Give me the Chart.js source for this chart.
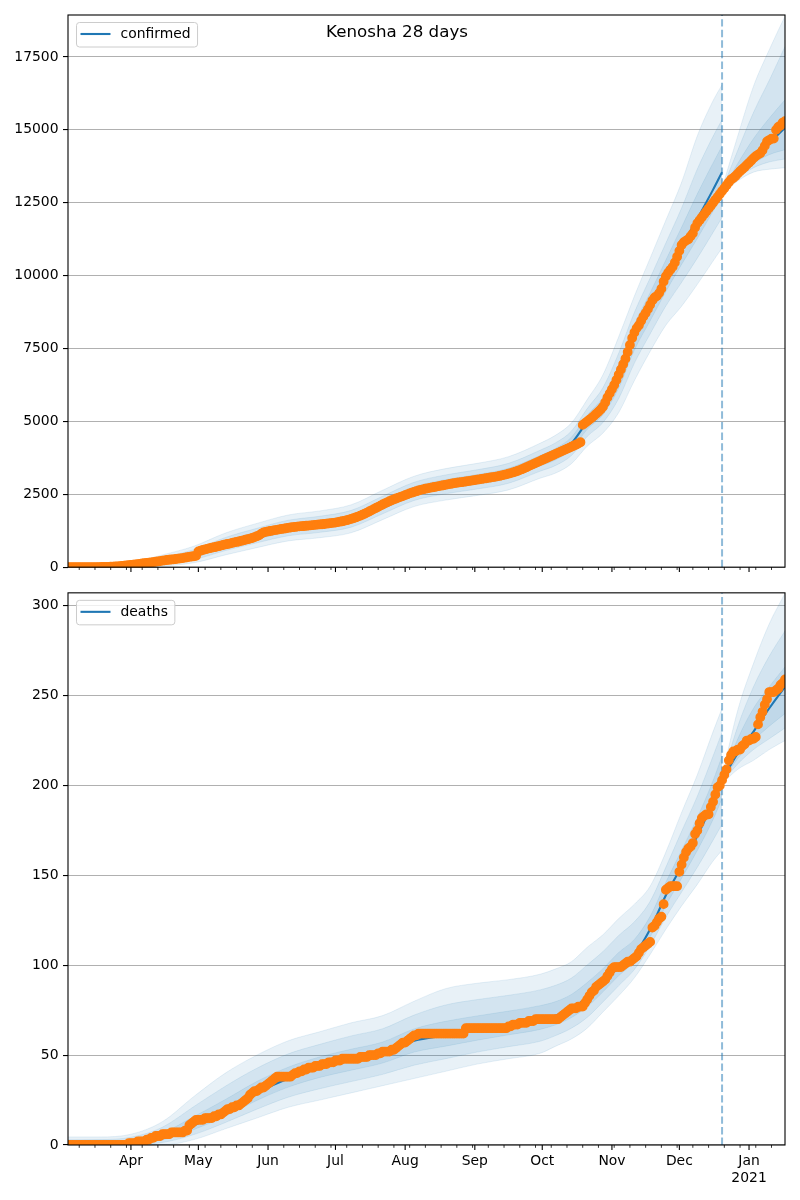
<!DOCTYPE html>
<html>
<head>
<meta charset="utf-8">
<title>Kenosha 28 days</title>
<script src="https://cdn.jsdelivr.net/npm/chart.js@4.4.0/dist/chart.umd.min.js"></script>
<style>
  body { margin: 0; background: #fff; }
  #wrap { position: relative; width: 800px; height: 1200px; }
  canvas { position: absolute; left: 0; }
</style>
</head>
<body>
<div id="wrap">
  <canvas id="casesChart" width="800" height="580" style="top:0px"></canvas>
  <canvas id="deathsChart" width="800" height="620" style="top:580px"></canvas>
</div>
<script>
// day 0 = 2020-03-04, last day = 2021-01-17
const lastDay = 319;
const forecastStart = 291; // 2020-12-20

// x axis: month starts (major, labelled), Mondays (minor)
const monthDays = [28, 58, 89, 119, 150, 181, 211, 242, 272, 303];
const monthLabels = ['Apr', 'May', 'Jun', 'Jul', 'Aug', 'Sep', 'Oct', 'Nov', 'Dec', ['Jan', '2021']];
const firstMonday = 5;

// y axis ticks
const confirmedTicks = [0, 2500, 5000, 7500, 10000, 12500, 15000, 17500];
const deathsTicks = [0, 50, 100, 150, 200, 250, 300];

// observed cumulative values, one per day from day 0
const confirmedObs = [
  0,0,0,0,0,0,0,0,0,0,
  1,1,2,3,4,6,8,10,13,16,
  20,25,30,36,42,50,58,66,75,
  85,95,105,115,125,135,145,155,165,175,185,197,210,
  222,235,245,255,262,270,280,290,300,312,325,340,355,
  365,375,390,
  540,565,590,
  610,630,650,668,685,700,720,740,760,
  780,795,810,830,850,865,880,900,920,940,960,980,1000,1030,
  1060,1090,1150,1190,
  1210,1225,1240,1255,1270,1280,1295,1310,1320,1335,1350,
  1360,1370,1380,1390,1398,1405,1412,1420,1428,1435,1442,1450,1458,1465,1472,
  1480,1490,1500,1510,1520,1530,1545,1560,1575,1590,1610,1630,
  1655,1680,1705,1735,1765,1800,1835,1870,1910,
  1950,1990,2030,2070,2110,2150,2190,2225,2260,
  2295,2325,2355,2385,2410,2440,2470,2500,2530,2555,2580,2605,2630,2650,2670,
  2690,2705,2720,2735,2750,2765,2780,2795,2810,2825,2840,2855,2870,2885,
  2895,2905,2915,2925,2938,2950,2962,2975,2988,3000,3012,3025,3038,3050,3062,3075,
  3088,3100,3115,3130,3148,3165,3185,3205,3225,3250,3275,3300,3330,3360,
  3395,3430,3465,3500,3535,3570,3605,3640,3675,3710,3745,3780,3815,3850,3885,
  3920,3955,3990,4025,4060,4095,4130,4165,4200,4240,4285,
  4880,4940,5000,5060,5120,5190,5260,5330,5410,5500,5650,5820,5960,6100,
  6250,6420,6600,6780,6960,7150,7380,7620,7860,
  8050,8200,8300,8450,8600,8720,
  8850,9000,9150,9250,9300,9400,9550,9800,9980,
  10100,10200,10300,10450,10650,10850,11050,11150,
  11200,11250,11350,11450,11650,11800,
  11900,12000,12100,12200,12300,12400,12500,12600,12700,12800,12900,
  13000,13100,13200,13300,13350,13420,13500,13580,13650,13720,13800,13870,
  13950,14030,14100,14150,14200,14300,14450,14600,14650,14700,14700,15000,15100,15150,15250,15300
];

const deathsObs = [
  0,0,0,0,0,0,0,0,0,0,0,0,0,0,0,0,0,0,0,0,0,0,0,0,0,0,0,
  1,1,1,1,2,2,2,2,3,
  3,4,4,5,5,5,6,6,6,
  6,7,7,7,7,7,7,8,8,
  11,12,13,14,
  14,14,14,15,15,15,15,16,
  16,17,17,18,19,20,
  20,21,21,22,22,23,
  24,25,26,28,29,
  30,30,31,32,32,33,
  34,35,36,37,38,
  38,38,38,38,38,38,
  39,40,40,41,41,42,42,43,
  43,43,44,44,44,45,45,45,46,46,
  46,47,47,47,48,48,48,48,48,48,
  48,48,49,49,49,49,50,50,50,50,
  51,51,52,52,52,52,53,53,54,
  55,56,57,57,58,59,60,
  61,61,62,62,62,62,62,
  62,62,62,62,62,62,62,62,62,62,62,62,62,62,62,62,
  65,65,65,65,65,65,65,65,65,65,65,65,65,65,65,65,65,65,65,
  66,66,67,67,67,68,68,68,68,
  69,69,69,70,70,70,70,70,70,70,70,70,70,70,
  71,72,73,74,75,76,
  76,76,77,77,77,
  79,81,83,85,86,
  88,89,90,91,92,94,96,98,
  99,99,99,99,100,101,102,
  102,103,104,105,107,109,
  110,111,112,113,
  121,122,124,
  126,127,
  134,
  142,143,144,144,144,144,
  152,156,160,163,165,166,168,173,
  175,179,182,183,184,184,188,191,
  195,199,200,203,206,209,
  214,217,219,219,220,220,
  222,223,225,225,226,226,227,
  234,238,241,245,248,252,
  252,252,253,254,256,257,259
];

// model fit up to the forecast start
const fitDays = [0,14,28,42,56,70,84,98,112,126,140,154,168,182,196,210,217,224,231,238,245,252,259,266,273,280,287,291];

const confirmedFit  = [0,5,60,220,420,790,1080,1340,1470,1660,2130,2600,2840,3010,3220,3650,3880,4250,4980,5500,6500,7900,8900,9950,11000,11950,12950,13550];
const confirmedHi90 = [40,60,160,420,720,1170,1500,1790,1930,2140,2640,3120,3380,3560,3790,4250,4530,4950,5750,6600,7900,9300,10600,11900,13200,14800,16000,16550];
const confirmedLo90 = [0,0,0,40,150,420,670,900,1010,1180,1630,2080,2300,2460,2650,3050,3230,3550,4150,4600,5300,6400,7400,8300,8950,9700,10500,10950];
const confirmedHi75 = [24,38,120,340,600,1018,1332,1610,1746,1948,2436,2912,3164,3340,3562,4010,4270,4670,5440,6160,7340,8740,9920,11120,12320,13660,14780,15350];
const confirmedLo75 = [0,2,24,112,258,568,834,1076,1194,1372,1830,2288,2516,2680,2878,3290,3490,3830,4482,4960,5780,7000,8000,8960,9770,10600,11480,11990];
const confirmedHi50 = [12,22,90,280,510,904,1206,1475,1608,1804,2283,2756,3002,3175,3391,3830,4075,4460,5210,5830,6920,8320,9410,10535,11660,12805,13865,14450];
const confirmedLo50 = [0,4,42,166,339,679,957,1208,1332,1516,1980,2444,2678,2845,3049,3470,3685,4040,4730,5230,6140,7450,8450,9455,10385,11275,12215,12770];

const deathsFit  = [0,0.3,1,4,11,19,29,37,43,47,51,58,61,64,67,70,72,76,82,90,99,106,120,139,155,172,191,205];
const deathsHi90 = [4.5,4.5,6,13,27,40,50,58,63,68,72,80,87,90,92,95,98,102,110,117,126,134,144,163,185,206,230,243];
const deathsLo90 = [0,0,0,0,3,9,15,21,25,29,33,37,41,45,48,51,55,59,65,74,83,93,106,120,133,145,158,164];
const deathsHi75 = [2.9,3.0,4.3,9.9,21.4,32.7,42.7,50.7,56,60.7,64.7,72.3,77.9,80.9,83.3,86.3,88.9,92.9,100.2,107.6,116.6,124.2,135.6,154.6,174.5,194.1,216.4,229.7];
const deathsLo75 = [0,0.1,0.35,1.4,5.8,12.5,19.9,26.6,31.3,35.3,39.3,44.4,48,51.7,54.7,57.7,60.9,65,71,79.6,88.6,97.6,110.9,126.7,140.7,154.5,169.6,178.4];
const deathsHi50 = [1.4,1.6,2.5,6.7,15.8,25.3,35.3,43.3,49,53.3,57.3,64.6,68.8,71.8,74.5,77.5,79.8,83.8,90.4,98.1,107.1,114.4,127.2,146.2,164,182.2,202.7,216.4];
const deathsLo50 = [0,0.2,0.7,2.8,8.6,16,24.8,32.2,37.6,41.6,45.6,51.7,55,58.3,61.3,64.3,66.9,70.9,76.9,85.2,94.2,102.1,115.8,133.3,148.4,163.9,181.1,192.7];

// 28 day forecast
const forecastDays = [291, 298, 305, 312, 319];

const confirmedFc     = [12900, 13500, 14030, 14550, 15070];
const confirmedFcHi90 = [13000, 14800, 16500, 17750, 18900];
const confirmedFcLo90 = [12800, 13250, 13550, 13650, 13700];
const confirmedFcHi75 = [12960, 14300, 15600, 16700, 17860];
const confirmedFcLo75 = [12840, 13350, 13700, 13900, 14000];
const confirmedFcHi50 = [12930, 13850, 14700, 15400, 16030];
const confirmedFcLo50 = [12870, 13420, 13850, 14150, 14320];

const deathsFc     = [203, 218, 230, 243, 255];
const deathsFcHi90 = [205, 242, 268, 290, 307];
const deathsFcLo90 = [201, 209, 214, 220, 225];
const deathsFcHi75 = [204.5, 233, 255, 272, 286];
const deathsFcLo75 = [201.7, 212, 220, 226, 232];
const deathsFcHi50 = [204, 226, 243, 255, 266];
const deathsFcLo50 = [202.3, 215, 225, 233, 240];

const BLUE = '#1f77b4';
const ORANGE = '#ff7f0e';
const BAND = 'rgba(31,119,180,0.1)';
const FONT = "'DejaVu Sans', sans-serif";

Chart.defaults.font.family = FONT;
Chart.defaults.color = '#000';

const minorDays = [];
for (let d = firstMonday; d <= lastDay; d += 7) {
  if (!monthDays.includes(d)) minorDays.push(d);
}

function pts(days, values) {
  return values.map((v, i) => ({ x: days[i], y: v }));
}

function dailyPts(values) {
  return values.map((v, i) => ({ x: i, y: v }));
}

function bandPair(days, lo, hi) {
  const base = { pointRadius: 0, borderWidth: 1, borderColor: BAND, cubicInterpolationMode: 'monotone', order: 3, clip: 0 };
  return [
    Object.assign({ label: '', data: pts(days, lo), fill: false }, base),
    Object.assign({ label: '', data: pts(days, hi), fill: '-1', backgroundColor: BAND }, base)
  ];
}

// frame, x tick marks, legend box and title, drawn on top like matplotlib
const axesBox = {
  id: 'axesBox',
  afterDraw(chart, args, opts) {
    const { ctx, chartArea: a } = chart;
    const x = chart.scales.x;
    ctx.save();
    ctx.strokeStyle = '#000';
    ctx.lineWidth = 0.8;
    minorDays.forEach(d => {
      const px = x.getPixelForValue(d);
      ctx.beginPath(); ctx.moveTo(px, a.bottom); ctx.lineTo(px, a.bottom + 2.8); ctx.stroke();
    });
    ctx.lineWidth = 1.1;
    monthDays.forEach(d => {
      const px = x.getPixelForValue(d);
      ctx.beginPath(); ctx.moveTo(px, a.bottom); ctx.lineTo(px, a.bottom + 4.9); ctx.stroke();
    });
    ctx.strokeRect(a.left, a.top, a.right - a.left, a.bottom - a.top);

    // legend
    ctx.font = '13.9px ' + FONT;
    const tw = ctx.measureText(opts.legend).width;
    const lx = a.left + 8.5, ly = a.top + 7.5, lw = 44 + tw + 7, lh = 24.5;
    ctx.beginPath();
    if (ctx.roundRect) ctx.roundRect(lx, ly, lw, lh, 3); else ctx.rect(lx, ly, lw, lh);
    ctx.fillStyle = 'rgba(255,255,255,0.8)';
    ctx.fill();
    ctx.strokeStyle = '#cccccc';
    ctx.lineWidth = 1;
    ctx.stroke();
    ctx.strokeStyle = BLUE;
    ctx.lineWidth = 2.1;
    ctx.beginPath(); ctx.moveTo(lx + 4, ly + 11.5); ctx.lineTo(lx + 34, ly + 11.5); ctx.stroke();
    ctx.fillStyle = '#000';
    ctx.textBaseline = 'middle';
    ctx.textAlign = 'left';
    ctx.fillText(opts.legend, lx + 44, ly + 12);

    if (opts.title) {
      ctx.font = '16.7px ' + FONT;
      ctx.textAlign = 'center';
      ctx.textBaseline = 'top';
      ctx.fillText(opts.title, chart.width / 2 - 3, 24);
    }
    ctx.restore();
  }
};

function buildChart(canvasId, p) {
  const datasets = [
    { label: p.label + ' observed', data: dailyPts(p.obs), showLine: false,
      pointRadius: 4.2, pointBorderWidth: 1.4, pointBackgroundColor: ORANGE, pointBorderColor: ORANGE,
      order: 0, clip: 0 },
    { label: p.label, data: pts(fitDays, p.fit), borderColor: BLUE, borderWidth: 2.1, pointRadius: 0,
      cubicInterpolationMode: 'monotone', order: 1, clip: 0 },
    { label: p.label + ' forecast', data: pts(forecastDays, p.fc), borderColor: BLUE, borderWidth: 2.1, pointRadius: 0,
      cubicInterpolationMode: 'monotone', order: 1, clip: 0 },
    { label: 'forecast start', data: [{ x: forecastStart, y: 0 }, { x: forecastStart, y: p.yMax }],
      borderColor: 'rgba(31,119,180,0.5)', borderWidth: 2, borderDash: [7.4, 3.2], pointRadius: 0,
      tension: 0, order: 2, clip: 0 }
  ];
  p.fitBands.forEach(b => datasets.push(...bandPair(fitDays, b[0], b[1])));
  p.fcBands.forEach(b => datasets.push(...bandPair(forecastDays, b[0], b[1])));

  return new Chart(document.getElementById(canvasId), {
    type: 'line',
    data: { datasets },
    plugins: [axesBox],
    options: {
      responsive: false,
      animation: false,
      events: [],
      layout: { padding: { top: p.padTop, right: 15, left: 0, bottom: 0 } },
      plugins: {
        legend: { display: false },
        tooltip: { enabled: false },
        axesBox: { legend: p.label, title: p.title }
      },
      scales: {
        x: {
          type: 'linear', min: 0, max: lastDay,
          grid: { display: false, drawTicks: false },
          border: { display: false },
          ticks: {
            display: p.showX, autoSkip: false, maxRotation: 0, padding: 8,
            font: { size: 13.9 }, color: '#000',
            callback: v => monthLabels[monthDays.indexOf(v)]
          },
          afterBuildTicks: s => { s.ticks = monthDays.map(v => ({ value: v })); },
          afterFit: s => { s.height = p.xHeight; }
        },
        y: {
          min: 0, max: p.yMax,
          grid: { color: '#b0b0b0', lineWidth: 1.1, tickColor: '#000', tickLength: 5, tickWidth: 1.1 },
          border: { display: false },
          ticks: {
            autoSkip: false, padding: 4.5,
            font: { size: 13.9 }, color: '#000',
            callback: v => String(v)
          },
          afterBuildTicks: s => { s.ticks = p.yTicks.map(v => ({ value: v })); },
          afterFit: s => { s.width = 68; }
        }
      }
    }
  });
}

buildChart('casesChart', {
  label: 'confirmed', title: 'Kenosha 28 days',
  obs: confirmedObs, fit: confirmedFit, fc: confirmedFc,
  fitBands: [[confirmedLo90, confirmedHi90], [confirmedLo75, confirmedHi75], [confirmedLo50, confirmedHi50]],
  fcBands: [[confirmedFcLo90, confirmedFcHi90], [confirmedFcLo75, confirmedFcHi75], [confirmedFcLo50, confirmedFcHi50]],
  yMax: 18940, yTicks: confirmedTicks, padTop: 15, xHeight: 12, showX: false
});

buildChart('deathsChart', {
  label: 'deaths', title: '',
  obs: deathsObs, fit: deathsFit, fc: deathsFc,
  fitBands: [[deathsLo90, deathsHi90], [deathsLo75, deathsHi75], [deathsLo50, deathsHi50]],
  fcBands: [[deathsFcLo90, deathsFcHi90], [deathsFcLo75, deathsFcHi75], [deathsFcLo50, deathsFcHi50]],
  yMax: 307.2, yTicks: deathsTicks, padTop: 12, xHeight: 55, showX: true
});
</script>
</body>
</html>
